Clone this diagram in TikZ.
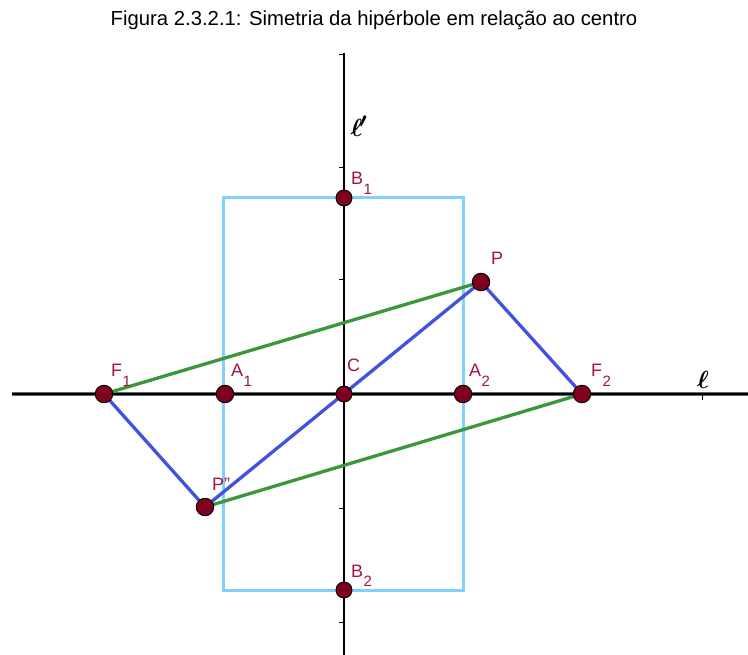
\documentclass[tikz,border=0pt]{standalone}
\usepackage{fontspec}
\setmainfont{Liberation Sans}
\usepackage{amsmath,bm}
\definecolor{lblcol}{RGB}{160,20,70}
\definecolor{ptfill}{RGB}{128,0,32}
\definecolor{rectcol}{RGB}{128,208,248}
\definecolor{grn}{RGB}{60,150,60}
\definecolor{blu}{RGB}{66,82,224}
\newcommand{\lsub}[1]{\kern0.5pt\raisebox{-9.5pt}{\fontsize{15}{15}\selectfont #1}}
\begin{document}
\begin{tikzpicture}[x=1pt,y=-1pt,
  pt/.style={circle,fill=ptfill,draw=black,line width=0.9pt,minimum size=17.5pt,inner sep=0pt},
  lbl/.style={text=lblcol,font=\fontsize{18}{18}\selectfont,inner sep=0pt,anchor=base west},
  axis/.style={black,line width=1.6pt},
  tick/.style={black,line width=1pt},
  seg/.style={line width=3.3pt},
  ell/.style={inner sep=0pt,font=\fontsize{30}{30}\selectfont}]
\useasboundingbox (0,0) rectangle (748,655);
% title
\node[inner sep=0pt,anchor=base,font=\fontsize{20.3}{20}\selectfont] (title) at (374,26) {Figura 2.3.2.1: Simetria da hipérbole em relação ao centro};
% axes
\coordinate (xl) at (12,394);
\coordinate (xr) at (748,394);
\coordinate (yt) at (344,53);
\coordinate (yb) at (344,655);
\draw[black!60,line width=3.4pt] (xl) -- (xr);
\draw[black,line width=1.6pt] (xl) -- (xr);
\draw[axis] (yt) -- (yb);
\foreach \yy in {55,168,280,508,622} \draw[tick] (339,\yy) -- (344,\yy);
\draw[tick] (702,394) -- (702,400);
\node[ell] (lv) at (359,126) {$\bm{\ell}\mkern-2mu\bm{'}$};
\node[ell] (lh) at (703,380) {$\bm{\ell}$};
% rectangle
\coordinate (r1) at (223,198);
\coordinate (r2) at (463,590);
\draw[rectcol,line width=3pt] (r1) rectangle (r2);
% point coordinates
\coordinate (cF1) at (104,394);
\coordinate (cA1) at (225,394);
\coordinate (cC) at (344,394);
\coordinate (cA2) at (463,394);
\coordinate (cF2) at (582,394);
\coordinate (cP) at (481,282);
\coordinate (cPP) at (205,507);
\coordinate (cB1) at (344,198);
\coordinate (cB2) at (344,590);
% segments
\draw[seg,grn] (cF1) -- (cP);
\draw[seg,grn] (cPP) -- (cF2);
\draw[seg,blu] (cF1) -- (cPP);
\draw[seg,blu] (cPP) -- (cP);
\draw[seg,blu] (cP) -- (cF2);
% points
\node[pt] (F1) at (cF1) {};
\node[pt] (A1) at (cA1) {};
\node[pt,minimum size=16pt] (C) at (cC) {};
\node[pt] (A2) at (cA2) {};
\node[pt] (F2) at (cF2) {};
\node[pt] (P) at (cP) {};
\node[pt] (PP) at (cPP) {};
\node[pt,minimum size=16pt] (B1) at (cB1) {};
\node[pt,minimum size=16pt] (B2) at (cB2) {};
% labels
\node[lbl] (lF1) at (111,377) {F\lsub{1}};
\node[lbl] (lA1) at (231,377) {A\lsub{1}};
\node[lbl] (lC) at (347,372) {C};
\node[lbl] (lA2) at (469,377) {A\lsub{2}};
\node[lbl] (lF2) at (591,377) {F\lsub{2}};
\node[lbl] (lP) at (491,265) {P};
\node[lbl] (lPP) at (212,490) {P"};
\node[lbl] (lB1) at (351,185) {B\lsub{1}};
\node[lbl] (lB2) at (351,577) {B\lsub{2}};
\end{tikzpicture}
\end{document}
